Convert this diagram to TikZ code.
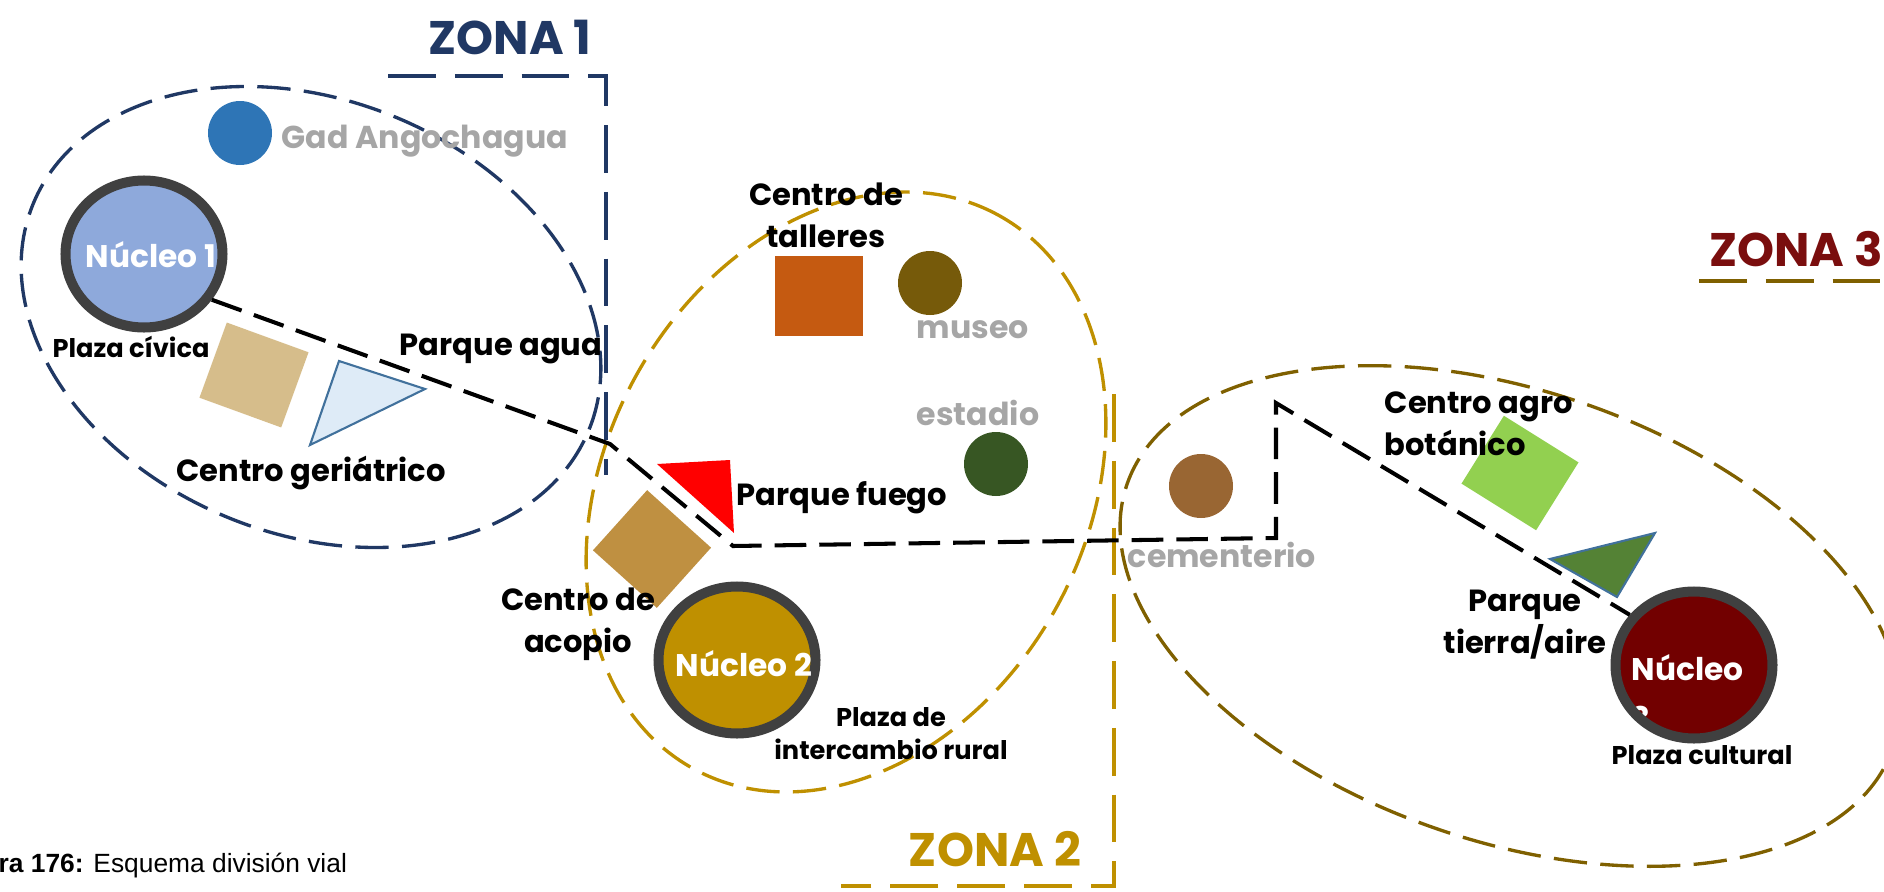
\documentclass[tikz,border=0pt]{standalone}
\usepackage{fontspec}
\setmainfont{Poppins}
\newfontfamily\captionfont{Liberation Sans}
\usepackage{tikz}
\usetikzlibrary{arrows.meta,positioning,shapes.geometric}
\definecolor{ZonaNavy}{HTML}{203864}
\definecolor{ZonaGold}{HTML}{BF9000}
\definecolor{ZonaOlive}{HTML}{7F6000}
\definecolor{ZonaRed}{HTML}{7A0E0E}
\definecolor{RingGray}{HTML}{404040}
\definecolor{LabelGray}{HTML}{A6A6A6}
\definecolor{NucBlue}{HTML}{8EA9DB}
\definecolor{NucGold}{HTML}{BF9000}
\definecolor{NucRed}{HTML}{720000}
\definecolor{GadBlue}{HTML}{2E75B6}
\definecolor{PlazaTan}{HTML}{D6BD8B}
\definecolor{GeriFill}{HTML}{DEEBF7}
\definecolor{TriEdge}{HTML}{41719C}
\definecolor{TallerOrange}{HTML}{C55A11}
\definecolor{MuseoBrown}{HTML}{765A0A}
\definecolor{EstadioGreen}{HTML}{375623}
\definecolor{AcopioTan}{HTML}{BF9041}
\definecolor{CementBrown}{HTML}{996633}
\definecolor{AgroGreen}{HTML}{92D050}
\definecolor{TierraGreen}{HTML}{548235}

\begin{document}
\begin{tikzpicture}[
  x=1cm,y=1cm,
  road/.style={
    line width=1.15pt,
    draw=black,
    dash pattern=on 9pt off 3.7pt
  },
  zoneline/.style={
    line width=1.4pt,
    dash pattern=on 13.6pt off 5.4pt
  },
  zonering/.style={
    line width=0.95pt,
    dash pattern=on 9.5pt off 3.8pt
  },
  nucleo/.style={
    ellipse,
    draw=RingGray,
    line width=2.85pt,
    minimum width=1.57cm,
    minimum height=1.47cm,
    inner sep=0pt
  },
  dot/.style={
    circle,
    minimum size=0.64cm,
    inner sep=0pt
  },
  blockbox/.style={
    rectangle,
    minimum width=0.88cm,
    minimum height=0.80cm,
    inner sep=0pt
  },
  triedge/.style={
    draw=TriEdge,
    line width=0.6pt,
    line join=miter
  },
  biglabel/.style={
    font=\bfseries\fontsize{8.7}{12}\selectfont,
    text=black,
    align=center,
    inner sep=0pt
  },
  plazalabel/.style={
    font=\bfseries\fontsize{7.3}{9.4}\selectfont,
    text=black,
    align=center,
    inner sep=0pt
  },
  greylabel/.style={
    font=\bfseries\fontsize{9}{11}\selectfont,
    text=LabelGray,
    inner sep=0pt
  },
  nuctext/.style={
    font=\bfseries\fontsize{8.9}{12.8}\selectfont,
    text=white,
    inner sep=0pt
  },
  zonalabel/.style={
    font=\bfseries\fontsize{13.4}{16}\selectfont,
    inner sep=0pt
  }
]
\useasboundingbox (0,0) rectangle (18.84,8.91);

% -------------------------------------------------
% Zone outlines
% -------------------------------------------------
\draw[zonering, draw=ZonaNavy, shift={(3.11,5.74)}, rotate=-22]
  (0,0) ellipse [x radius=3.00, y radius=2.17];
\draw[zonering, draw=ZonaGold, shift={(8.46,3.99)}, rotate=61]
  (0,0) ellipse [x radius=3.16, y radius=2.40];
\draw[zonering, draw=ZonaOlive, shift={(15.10,2.75)}, rotate=-19]
  (0,0) ellipse [x radius=4.05, y radius=2.25];

\draw[zoneline, draw=ZonaNavy] (3.88,8.15) -- (6.06,8.15) -- (6.06,4.16);
\draw[zoneline, draw=ZonaGold] (11.14,4.97) -- (11.14,0.05) -- (8.41,0.05);
\draw[zoneline, draw=ZonaOlive] (16.99,6.10) -- (18.84,6.10);

\node[zonalabel, text=ZonaNavy] (zona1) at (5.10,8.54) {ZONA 1};
\node[zonalabel, text=ZonaGold] (zona2) at (9.95,0.42) {ZONA 2};
\node[zonalabel, text=ZonaRed] (zona3) at (17.96,6.42) {ZONA 3};

% -------------------------------------------------
% Zona 1
% -------------------------------------------------
\node[dot, fill=GadBlue] (gad) at (2.40,7.58) {};
\node[greylabel, anchor=west] (gadlbl) at (2.81,7.50) {Gad Angochagua};

\node[nucleo, fill=NucBlue] (nuc1) at (1.44,6.37) {};
\node[nuctext] (nuc1lbl) at (1.51,6.36) {Núcleo 1};
\node[plazalabel] (civica) at (1.31,5.44) {Plaza cívica};

\node[blockbox, fill=PlazaTan, minimum width=0.87cm, rotate=-20] (civicasq) at (2.54,5.16) {};
\fill[GeriFill] (3.39,5.30) -- (4.25,5.02) -- (3.10,4.46) -- cycle;
\draw[triedge] (3.39,5.30) -- (4.25,5.02) -- (3.10,4.46) -- cycle;
\node[biglabel] (geri) at (3.11,4.18) {Centro geriátrico};
\node[biglabel] (agua) at (5.01,5.42) {Parque agua};

% -------------------------------------------------
% Zona 2
% -------------------------------------------------
\node[blockbox, fill=TallerOrange] (tallersq) at (8.19,5.95) {};
\node[biglabel] (taller) at (8.26,6.76) {Centro de\\talleres};
\node[dot, fill=MuseoBrown] (museo) at (9.30,6.08) {};
\node[greylabel] (museolbl) at (9.73,5.61) {museo};
\node[greylabel] (estadiolbl) at (9.78,4.78) {estadio};
\node[dot, fill=EstadioGreen] (estadio) at (9.96,4.27) {};

\fill[red] (6.57,4.27) -- (7.30,4.31) -- (7.34,3.58) -- cycle;
\node[biglabel] (fuego) at (8.42,3.93) {Parque fuego};

\node[blockbox, fill=AcopioTan, minimum width=0.86cm, minimum height=0.81cm, rotate=-42] (acopiosq) at (6.52,3.42) {};
\node[biglabel] (acopio) at (5.78,2.67) {Centro de\\acopio};

\node[nucleo, fill=NucGold] (nuc2) at (7.37,2.31) {};
\node[nuctext] (nuc2lbl) at (7.44,2.27) {Núcleo 2};
\node[plazalabel] (intercambio) at (8.91,1.57) {Plaza de\\intercambio rural};

% -------------------------------------------------
% Zona 3
% -------------------------------------------------
\node[dot, fill=CementBrown] (cement) at (12.01,4.05) {};
\node[greylabel] (cementlbl) at (12.22,3.36) {cementerio};

\node[blockbox, fill=AgroGreen, rotate=-32] (agrosq) at (15.20,4.18) {};
\node[biglabel, anchor=west, align=left] (agro) at (13.84,4.67) {Centro agro\\botánico};

\fill[TierraGreen] (15.50,3.32) -- (16.55,3.58) -- (16.17,2.94) -- cycle;
\draw[triedge] (15.50,3.32) -- (16.55,3.58) -- (16.17,2.94) -- cycle;
\node[biglabel] (tierra) at (15.25,2.66) {Parque\\tierra/aire};

\node[nucleo, draw=none, fill=NucRed] (nuc3) at (16.94,2.26) {};
\node[nuctext, anchor=base west] (nuc3lbl) at (16.31,2.11) {Núcleo};
\node[nuctext, anchor=base west] (nuc3num) at (16.31,1.62) {3};
\node[nucleo] (nuc3ring) at (nuc3) {};
\node[plazalabel] (cultural) at (17.02,1.36) {Plaza cultural};

% -------------------------------------------------
% Road
% -------------------------------------------------
\coordinate (bendA) at (6.10,4.47);
\coordinate (bendB) at (7.33,3.45);
\coordinate (bendC) at (12.76,3.53);
\coordinate (bendD) at (12.76,4.88);

\draw[road] (nuc1.-34) -- (bendA) -- (bendB) -- (bendC) -- (bendD) -- (nuc3.142);

% caption
\node[anchor=base west, inner sep=0pt, font=\captionfont\fontsize{7.5}{9}\selectfont] (caption) at (-0.02,0.19)
  {\textbf{ra 176:} Esquema división vial};

\end{tikzpicture}
\end{document}
